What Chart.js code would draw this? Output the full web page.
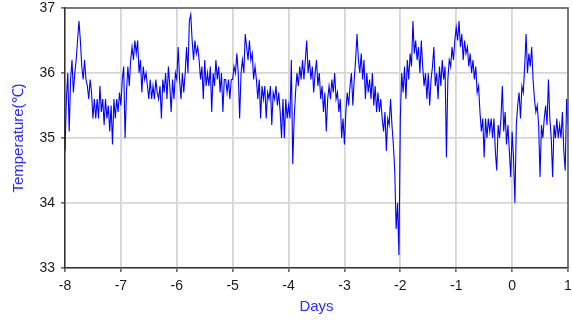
<!DOCTYPE html>
<html>
<head>
<meta charset="utf-8">
<script src="https://cdn.jsdelivr.net/npm/chart.js@4/dist/chart.umd.min.js"></script>
<style>
html,body{margin:0;padding:0;background:#fff;}
#wrap{width:572px;height:320px;}
</style>
</head>
<body>
<div id="wrap"><canvas id="c" width="572" height="320"></canvas></div>
<script>
// Sampling: one reading every 0.025 day, starting at day -8
const startDay = -8;
const stepDay = 0.025;
const xTicks = [-8,-7,-6,-5,-4,-3,-2,-1,0,1];
const yTicks = [33,34,35,36,37];

const dayM8 = [34.8,35.6,36.0,35.1,35.9,36.2,35.7,36.0,36.2,36.5,36.8,36.5,36.1,35.9,36.2,35.9,35.8,35.6,35.9,35.7,
               35.3,35.6,35.3,35.6,35.3,35.8,35.4,35.6,35.2,35.6,35.3,35.5,35.1,35.5,34.9,35.6,35.3,35.6,35.4,35.7];
const dayM7 = [35.5,35.9,36.1,35.0,35.7,36.1,35.8,36.2,36.4,36.2,36.5,36.3,36.5,36.0,36.2,35.7,36.1,35.9,36.0,35.8,
               35.6,35.9,35.6,35.8,35.6,35.9,35.7,35.6,35.8,35.3,35.9,35.7,36.0,35.6,36.1,35.8,35.4,35.9,35.6,36.0];
const dayM6 = [35.9,36.4,35.9,35.6,36.0,35.7,36.0,36.4,36.0,36.8,36.9,36.5,36.2,36.5,36.3,36.4,36.2,35.9,36.1,35.6,
               36.2,35.8,36.0,35.8,36.1,35.4,36.0,35.8,36.2,35.9,36.1,35.7,36.0,35.4,35.9,35.9,35.7,35.9,35.6,35.9];
const dayM5 = [35.9,36.1,36.0,36.3,36.0,35.3,36.0,36.2,36.0,36.6,36.4,36.2,36.5,36.2,36.3,35.9,36.1,35.9,35.6,35.9,
               35.3,35.8,35.6,35.8,35.3,35.7,35.6,35.8,35.2,35.7,35.6,35.8,35.5,35.7,35.4,35.0,35.6,35.0,35.6,35.3];
const dayM4 = [35.5,35.3,36.2,34.6,35.3,35.7,36.0,35.8,36.1,35.9,36.2,35.9,36.2,36.5,36.0,36.2,35.9,36.1,35.7,36.0,
               36.2,35.8,36.0,35.6,35.8,35.4,35.7,35.1,35.6,35.8,35.6,35.9,35.7,36.0,35.6,35.7,35.4,35.6,35.0,35.3];
const dayM3 = [34.9,35.4,35.7,35.5,35.8,36.0,35.5,35.9,36.2,36.6,36.2,36.0,36.3,35.9,36.2,35.6,36.0,35.7,35.9,35.6,
               36.0,35.5,35.8,35.4,35.7,35.4,35.6,35.3,35.1,35.4,34.8,35.3,35.2,35.6,35.2,34.9,34.5,33.6,34.0,33.2];
const dayM2 = [35.3,36.0,35.7,36.1,35.6,36.2,35.9,36.3,36.1,36.8,36.3,36.5,36.2,36.4,36.0,36.5,36.1,35.8,36.0,35.6,
               36.0,35.5,35.9,36.1,36.4,35.8,36.0,35.6,36.1,35.8,36.2,35.9,36.1,34.7,35.9,36.2,36.1,36.4,36.2,36.5];
const dayM1 = [36.7,36.5,36.8,36.4,36.6,36.2,36.5,36.3,36.4,36.1,36.3,36.0,36.2,35.9,36.1,35.7,35.8,35.4,35.1,35.3,
               34.7,35.3,35.0,35.3,35.1,35.3,35.0,35.3,34.8,34.5,35.2,35.0,35.3,35.8,35.1,35.4,34.9,35.2,34.8,34.4];
const day0  = [35.1,34.7,34.0,35.2,35.5,35.7,35.3,35.8,35.7,36.1,36.6,36.0,36.3,36.1,36.4,35.9,35.6,35.4,35.5,35.2,
               34.4,35.2,35.0,35.3,35.5,35.2,35.9,35.3,35.0,34.4,35.2,35.0,35.3,35.0,35.2,35.0,35.4,34.8,34.5,35.6,35.2];

const temps = [].concat(dayM8, dayM7, dayM6, dayM5, dayM4, dayM3, dayM2, dayM1, day0);
const points = temps.map((t, i) => ({x: startDay + i * stepDay, y: t}));

const frame = {
  id: 'frame',
  afterDraw(chart) {
    const {ctx, chartArea: a} = chart;
    ctx.save();
    ctx.strokeStyle = '#5a5a5a';
    ctx.lineWidth = 1.5;
    ctx.beginPath();
    ctx.moveTo(a.left, a.top);
    ctx.lineTo(a.right, a.top);
    ctx.lineTo(a.right, a.bottom);
    ctx.stroke();
    ctx.restore();
  }
};

const tickFont = {family: 'Liberation Sans, Arial, sans-serif', size: 14};
const titleFont = {family: 'Liberation Sans, Arial, sans-serif', size: 15};

new Chart(document.getElementById('c'), {
  type: 'line',
  data: {
    datasets: [{
      data: points,
      borderColor: '#0000ff',
      borderWidth: 1.1,
      pointRadius: 0,
      tension: 0,
      fill: false
    }]
  },
  options: {
    responsive: false,
    animation: false,
    layout: {padding: {top: 8, right: 4, left: 0, bottom: 0}},
    plugins: {legend: {display: false}, tooltip: {enabled: false}},
    scales: {
      x: {
        type: 'linear',
        min: xTicks[0],
        max: xTicks[xTicks.length - 1],
        afterBuildTicks: s => { s.ticks = xTicks.map(v => ({value: v})); },
        afterFit: s => { s.height = 52; s.paddingLeft = 0; s.paddingRight = 0; },
        ticks: {color: '#1a1a1a', font: tickFont, padding: 6, maxRotation: 0},
        grid: {color: '#d6d6d6', lineWidth: 1.8, tickLength: 4, tickColor: '#333', tickWidth: 1.2},
        border: {display: true, color: '#333', width: 1.5},
        title: {display: true, text: 'Days', color: '#2a2aff', font: titleFont, padding: {top: 0, bottom: 4}}
      },
      y: {
        min: yTicks[0],
        max: yTicks[yTicks.length - 1],
        afterBuildTicks: s => { s.ticks = yTicks.map(v => ({value: v})); },
        afterFit: s => { s.width = 65; s.paddingTop = 0; s.paddingBottom = 0; },
        ticks: {color: '#1a1a1a', font: tickFont, padding: 6},
        grid: {color: '#d6d6d6', lineWidth: 1.8, tickLength: 4, tickColor: '#333', tickWidth: 1.2},
        border: {display: true, color: '#333', width: 1.5},
        title: {display: true, text: 'Temperature(℃)', color: '#2a2aff', font: titleFont, padding: {top: 10, bottom: 0}}
      }
    }
  },
  plugins: [frame]
});
</script>
</body>
</html>
